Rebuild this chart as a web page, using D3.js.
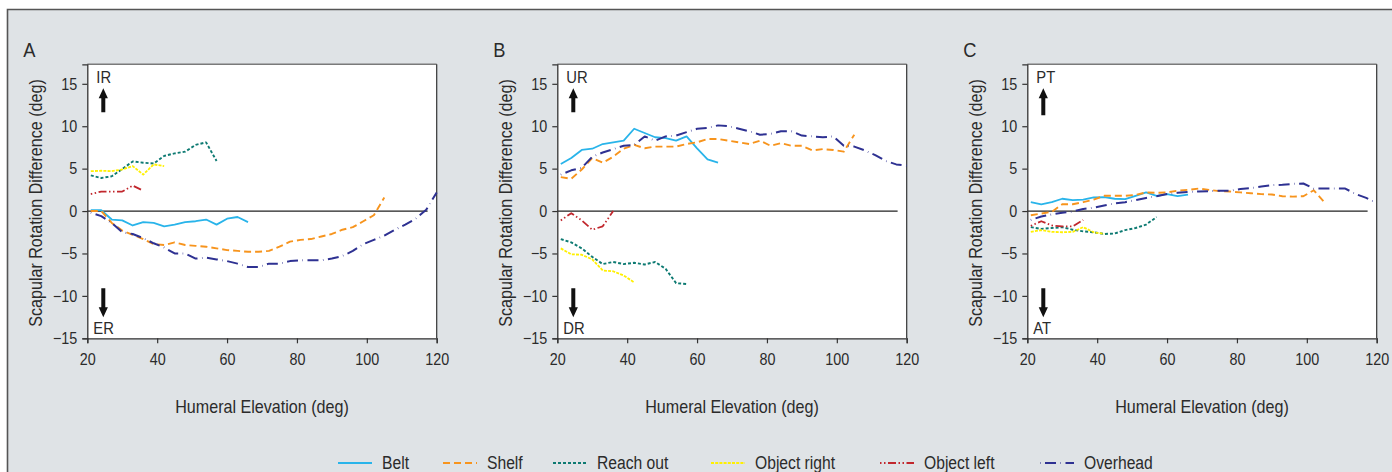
<!DOCTYPE html>
<html><head><meta charset="utf-8">
<script src="https://cdn.jsdelivr.net/npm/d3@7"></script>
<style>
html,body{margin:0;padding:0;background:#fff;}
svg{display:block;}
text{font-family:"Liberation Sans",Arial,sans-serif;fill:#2b2b2b;}
</style></head><body>
<svg id="chart" width="1392" height="472"></svg>
<script>
// ---------------- DATA ----------------
const elevation = [21,24,27,30,33,36,39,42,45,48,51,54,57,60,63,66,69,72,75,78,81,84,87,90,93,96,99,102,105,108,111,114,117,120];
const xTicks = [20,40,60,80,100,120];
const yTicks = [-15,-10,-5,0,5,10,15];
const seriesNames = ["Belt","Shelf","Reach out","Object right","Object left","Overhead"];
const panelLabels = ["A","B","C"];
const upLabels = ["IR","UR","PT"];
const downLabels = ["ER","DR","AT"];

// Panel A (internal/external rotation)
const beltA  = [0.1,0.1,-1.0,-1.1,-1.7,-1.3,-1.4,-1.8,-1.6,-1.3,-1.2,-1.0,-1.6,-0.9,-0.7,-1.3];
const shelfA = [0.0,0.0,-1.4,-2.3,-2.8,-3.3,-3.9,-4.0,-3.7,-4.0,-4.1,-4.2,-4.4,-4.6,-4.7,-4.8,-4.8,-4.7,-4.2,-3.6,-3.4,-3.3,-3.0,-2.7,-2.2,-1.9,-1.2,-0.5,1.6];
const reachA = [4.2,3.9,4.1,4.95,5.85,5.7,5.6,6.5,6.8,7.0,7.8,8.1,5.9];
const rightA = [4.7,4.75,4.7,4.9,5.3,4.3,5.5,5.3];
const leftA  = [2.0,2.3,2.3,2.3,3.0,2.4];
const overA  = [-0.2,-0.6,-1.4,-2.5,-2.7,-3.2,-3.8,-4.3,-5.0,-5.0,-5.6,-5.5,-5.7,-5.9,-6.2,-6.6,-6.6,-6.2,-6.2,-5.9,-5.8,-5.8,-5.8,-5.6,-5.3,-4.7,-3.9,-3.4,-2.9,-2.2,-1.6,-0.9,0.15,2.2];

// Panel B (upward/downward rotation)
const beltB  = [5.55,6.25,7.2,7.35,7.9,8.1,8.3,9.7,9.2,8.7,8.6,8.3,8.8,7.4,6.1,5.7];
const shelfB = [4.0,3.8,4.9,6.25,5.7,6.4,7.35,7.8,7.4,7.6,7.6,7.6,7.9,8.1,8.5,8.5,8.3,8.1,7.9,8.3,7.7,8.0,7.7,7.7,7.15,7.3,7.2,7.0,9.0];
const reachB = [-3.3,-3.7,-4.4,-5.4,-6.25,-6.0,-6.25,-6.1,-6.3,-6.0,-6.8,-8.5,-8.6];
const rightB = [-4.4,-5.1,-5.15,-5.7,-7.0,-7.1,-7.6,-8.4];
const leftB  = [-1.1,-0.25,-1.1,-2.2,-1.8,0.0];
const overB  = [4.3,4.8,5.1,6.4,6.9,7.3,7.7,7.8,8.8,8.3,8.8,8.9,9.3,9.7,9.8,10.1,10.0,9.7,9.4,9.0,9.1,9.4,9.4,8.9,8.8,8.7,8.8,7.7,7.6,7.15,6.6,5.9,5.5,5.35];

// Panel C (posterior/anterior tilt)
const beltC  = [1.05,0.8,1.05,1.45,1.3,1.35,1.6,1.65,1.45,1.4,1.8,2.2,1.8,2.0,1.75,1.95];
const shelfC = [-0.5,-0.3,-0.1,0.8,0.8,1.05,1.35,1.8,1.8,1.8,1.9,2.2,2.15,2.2,2.4,2.5,2.65,2.5,2.35,2.3,2.2,2.1,2.0,1.95,1.75,1.7,1.75,2.45,1.05];
const reachC = [-1.9,-2.1,-2.0,-1.9,-2.2,-2.4,-2.5,-2.7,-2.65,-2.25,-2.0,-1.6,-0.7];
const rightC = [-2.45,-2.25,-2.45,-2.5,-2.45,-1.9,-2.5,-2.7];
const leftC  = [-1.75,-1.2,-1.7,-1.8,-1.8,-1.05];
const overC  = [-1.05,-0.65,-0.4,-0.2,-0.05,0.25,0.4,0.65,0.9,1.05,1.3,1.55,1.75,2.0,2.15,2.25,2.3,2.35,2.4,2.4,2.6,2.7,2.9,3.05,3.1,3.2,3.25,2.65,2.65,2.65,2.65,2.0,1.55,0.95];

const panels = [
  [beltA,shelfA,reachA,rightA,leftA,overA],
  [beltB,shelfB,reachB,rightB,leftB,overB],
  [beltC,shelfC,reachC,rightC,leftC,overC]
];

// ---------------- STYLE ----------------
const styles = [
  {color:"#29b4ea", dash:null, w:1.8},
  {color:"#f7941d", dash:"7,4", w:1.9},
  {color:"#0d7a72", dash:"3,2", w:1.9},
  {color:"#fff000", dash:"3,1.2", w:1.8},
  {color:"#c1272d", dash:"1.5,2.5,1.5,2.5,8,2.5", w:1.8},
  {color:"#2e3192", dash:"0.5,4.5,11,4.5", w:2}
];
const COND = 0.87;

const svg = d3.select("#chart");
// figure background & frame
svg.append("rect").attr("x",7).attr("y",9).attr("width",1392).attr("height",470)
  .attr("fill","#dfe3e6");
svg.append("path").attr("d","M7.5,480 L7.5,9.5 L1392,9.5").attr("fill","none")
  .attr("stroke","#555").attr("stroke-width",1.6);

const plotW = 349.4, plotTop = 64.3, plotBottom = 338.3;
const panelX0 = [87.3, 557.3, 1027.3];

function arrow(g, cx, yTail, yTip) {
  const dir = yTip < yTail ? -1 : 1;
  const headLen = 10, headHalf = 4.6, shaftHalf = 2;
  const yHead = yTip - dir*headLen;
  g.append("path").attr("d",
    `M${cx-shaftHalf},${yTail} L${cx-shaftHalf},${yHead} L${cx-headHalf},${yHead} L${cx},${yTip} L${cx+headHalf},${yHead} L${cx+shaftHalf},${yHead} L${cx+shaftHalf},${yTail} Z`)
    .attr("fill","#111");
}

panels.forEach((series, p) => {
  const x0 = panelX0[p];
  const x = d3.scaleLinear().domain([20,120]).range([x0, x0+plotW]);
  const y = d3.scaleLinear().domain([-15,17.3]).range([plotBottom, plotTop]);
  const g = svg.append("g");

  g.append("rect").attr("x",x0).attr("y",plotTop).attr("width",plotW).attr("height",plotBottom-plotTop)
    .attr("fill","#fff");
  g.append("line").attr("x1",x0).attr("x2",x0+plotW).attr("y1",plotTop).attr("y2",plotTop)
    .attr("stroke","#7a7a7a").attr("stroke-width",1.5);
  g.append("line").attr("x1",x0+plotW).attr("x2",x0+plotW).attr("y1",plotTop).attr("y2",plotBottom)
    .attr("stroke","#333").attr("stroke-width",1.2);

  // zero reference line
  g.append("line").attr("x1",x(20)).attr("x2",x(117.4)).attr("y1",y(0)).attr("y2",y(0))
    .attr("stroke","#222").attr("stroke-width",1.2);

  // axes
  const xa = g.append("g").attr("transform",`translate(0,${plotBottom})`)
    .call(d3.axisBottom(x).tickValues(xTicks).tickSize(5).tickPadding(6).tickFormat(d3.format("d")));
  const ya = g.append("g").attr("transform",`translate(${x0},0)`)
    .call(d3.axisLeft(y).tickValues(yTicks).tickSize(5).tickPadding(5).tickFormat(d => d<0 ? "\u2212"+Math.abs(d) : d));
  [xa,ya].forEach(a=>{
    a.select(".domain").attr("stroke","#333").attr("stroke-width",1.3);
    a.selectAll(".tick line").attr("stroke","#333").attr("stroke-width",1.2);
    a.selectAll(".tick text").attr("class","cond").style("font-size","16.5px").attr("fill","#2b2b2b");
  });
  xa.selectAll(".tick text").attr("dy","0.95em");

  // series lines
  const line = d3.line().x((d,i)=>x(elevation[i])).y(d=>y(d));
  series.forEach((vals, s) => {
    const st = styles[s];
    g.append("path").datum(vals).attr("d",line).attr("fill","none")
      .attr("stroke",st.color).attr("stroke-width",st.w)
      .attr("stroke-dasharray",st.dash).attr("stroke-linejoin","round");
  });

  // direction annotations
  const ax = x0 + 16;
  const upLen = p===2 ? 27 : 24;
  g.append("text").attr("class","cond").attr("x",ax-7).attr("y",plotTop+19).style("font-size","17px").text(upLabels[p]);
  arrow(g, ax, plotTop+24+upLen, plotTop+24);
  arrow(g, ax, plotBottom-50, plotBottom-21);
  g.append("text").attr("class","cond").attr("x",ax-10).attr("y",plotBottom-4).style("font-size","17px").text(downLabels[p]);

  // titles
  g.append("text").attr("class","cond").attr("x",x0+plotW/2).attr("y",413).attr("text-anchor","middle")
    .style("font-size","18.5px").text("Humeral Elevation (deg)");
  g.append("text").attr("class","cond").attr("transform",`translate(${x0-45},203) rotate(-90)`)
    .attr("text-anchor","middle").style("font-size","18.5px").text("Scapular Rotation Difference (deg)");
  g.append("text").attr("class","cond").attr("x",x0-64).attr("y",57).style("font-size","21px").text(panelLabels[p]);
});

// legend
const legX = [338, 443, 553, 711, 880, 1040];
const lg = svg.append("g");
seriesNames.forEach((name,i)=>{
  const st = styles[i];
  lg.append("line").attr("x1",legX[i]).attr("x2",legX[i]+34).attr("y1",463).attr("y2",463)
    .attr("stroke",st.color).attr("stroke-width",st.w).attr("stroke-dasharray",st.dash);
  lg.append("text").attr("class","cond").attr("x",legX[i]+44).attr("y",469).style("font-size","18px").text(name);
});

// condense text horizontally
svg.selectAll("text.cond").each(function(){
  const len = this.getComputedTextLength();
  d3.select(this).attr("textLength", len*COND).attr("lengthAdjust","spacingAndGlyphs");
});
</script>
</body></html>
